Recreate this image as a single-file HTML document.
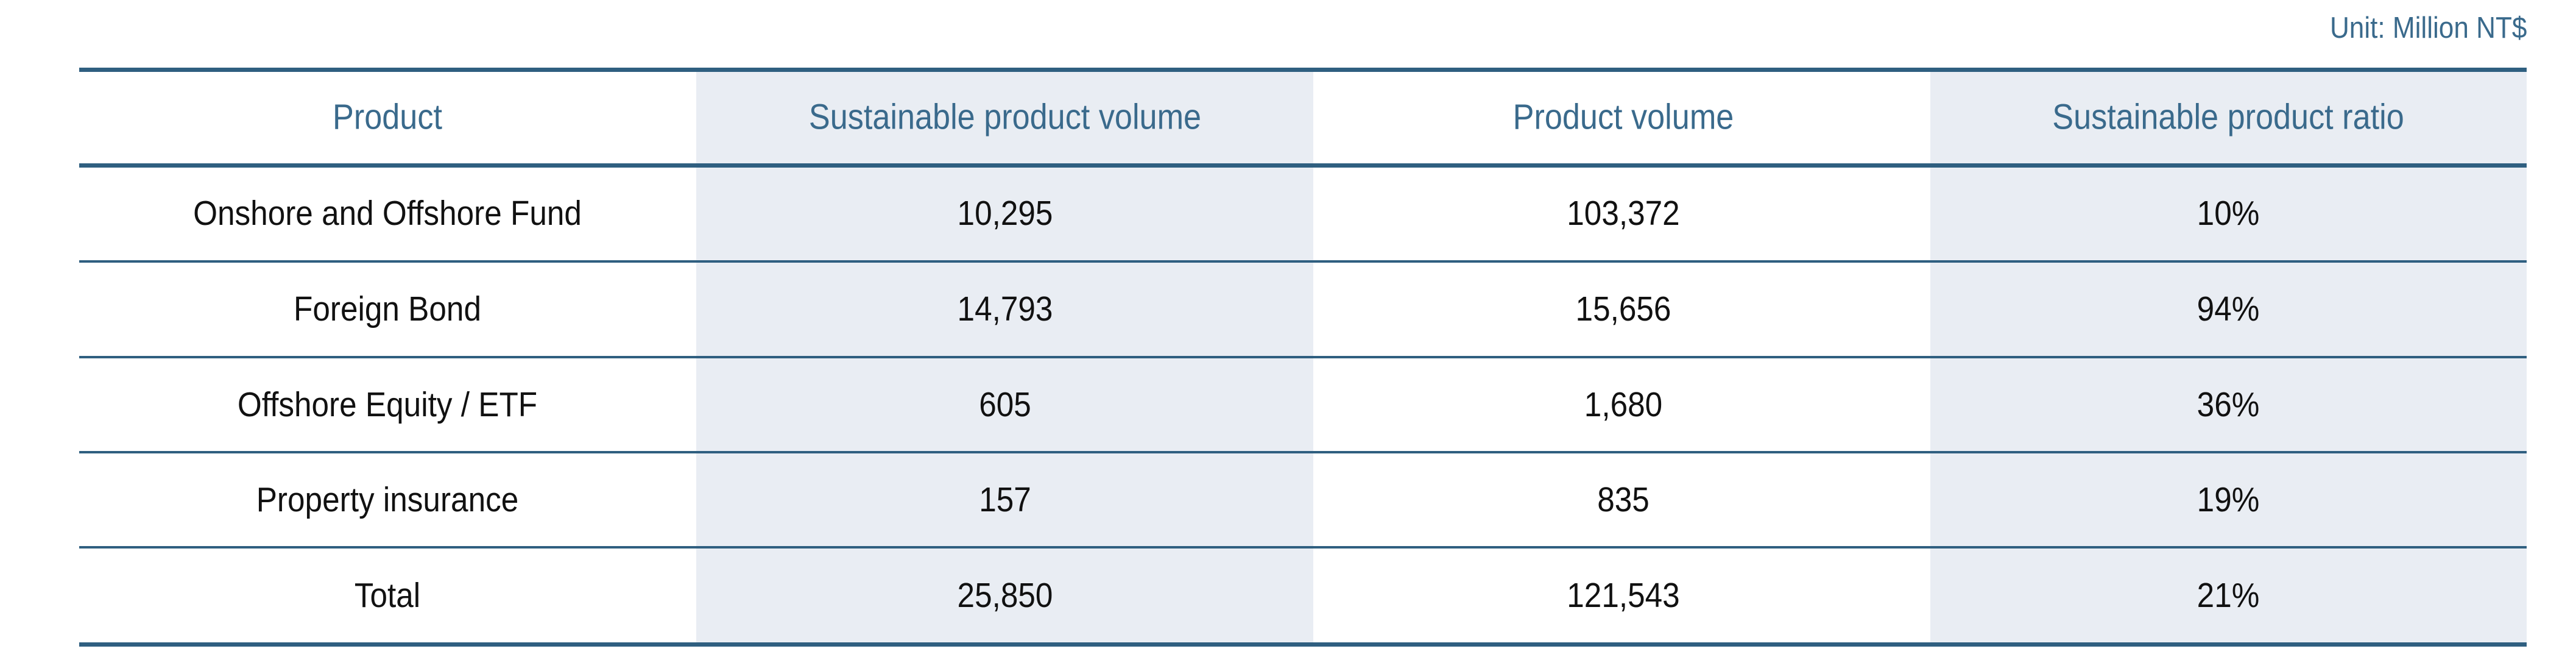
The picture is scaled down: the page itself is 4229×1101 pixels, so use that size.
<!DOCTYPE html>
<html><head><meta charset="utf-8"><style>
body{margin:0;width:4229px;height:1101px;background:#fff;position:relative;overflow:hidden;font-family:"Liberation Sans",sans-serif}
.a{position:absolute}
.shade{background:#e9edf3;top:114px;height:943px}
.line{left:130px;width:4018px;background:#2f5f80}
.t{position:absolute;transform:translate(-50%,-50%) scaleX(0.9);white-space:nowrap;font-size:57px;color:#111}
.h{color:#3a6a8c;font-size:58px}
.u{position:absolute;right:81px;top:18px;font-size:49px;color:#3a6a8c;transform:scaleX(0.9);transform-origin:right}
</style></head><body>
<div class="u">Unit: Million NT$</div>
<div class="a shade" style="left:1143px;width:1013px"></div>
<div class="a shade" style="left:3169px;width:979px"></div>
<div class="a line" style="top:111px;height:7px"></div>
<div class="a line" style="top:268px;height:7px"></div>
<div class="a line" style="top:427px;height:4px"></div>
<div class="a line" style="top:584px;height:4px"></div>
<div class="a line" style="top:740px;height:4px"></div>
<div class="a line" style="top:896px;height:4px"></div>
<div class="a line" style="top:1054px;height:7px"></div>
<div id="cells"></div>
<script>
const headers=["Product","Sustainable product volume","Product volume","Sustainable product ratio"];
const products=["Onshore and Offshore Fund","Foreign Bond","Offshore Equity / ETF","Property insurance","Total"];
const sustVol=["10,295","14,793","605","157","25,850"];
const prodVol=["103,372","15,656","1,680","835","121,543"];
const ratio=["10%","94%","36%","19%","21%"];
const colX=[636,1650,2665,3658];
const rowY=[350,507,664,820,977];
const c=document.getElementById('cells');
function cell(txt,x,y,cls,name){
  const d=document.createElement('div');
  d.className='t '+cls;
  d.style.left=x+'px';d.style.top=y+'px';
  d.textContent=txt;
  
  
  c.appendChild(d);
}
headers.forEach((h,i)=>cell(h,colX[i],192,'h','column-header'));
products.forEach((p,r)=>{
  cell(p,colX[0],rowY[r],'','product-name');
  cell(sustVol[r],colX[1],rowY[r],'','sustainable-volume');
  cell(prodVol[r],colX[2],rowY[r],'','product-volume');
  cell(ratio[r],colX[3],rowY[r],'','sustainable-ratio');
});
</script>
</body></html>
